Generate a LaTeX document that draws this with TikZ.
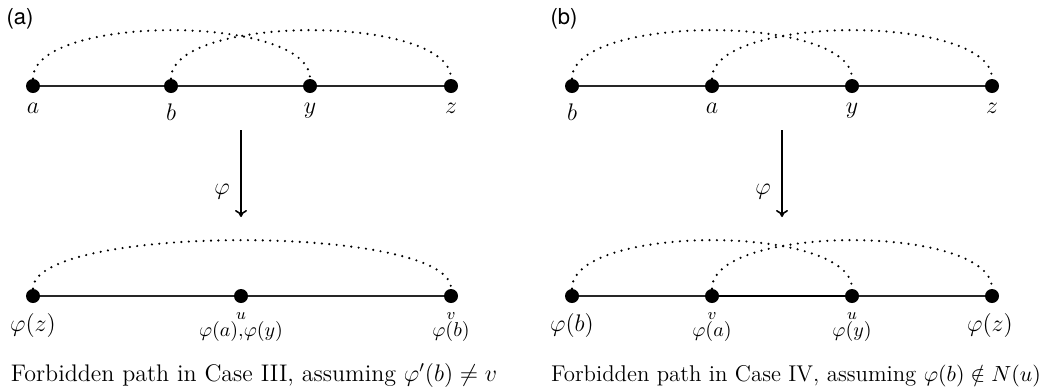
\documentclass[tikz,border=0pt]{standalone}
\usepackage{fontspec}
\newfontfamily\heros{TeX Gyre Heros}
\usetikzlibrary{arrows.meta}
\begin{document}
\begin{tikzpicture}[x=0.5pt,y=-0.5pt,
  vtx/.style={circle,fill=black,inner sep=0pt,minimum size=7pt},
  edge/.style={line width=0.6pt, black!85},
  thickedge/.style={line width=1.2pt, black},
  dotarc/.style={line width=1.2pt, dash pattern=on 0pt off 3.7pt, line cap=round},
  toplab/.style={anchor=north, inner sep=0pt, font=\fontsize{12}{14}\selectfont},
  biglab/.style={anchor=base, inner sep=0pt, font=\fontsize{12}{14}\selectfont},
  midlab/.style={anchor=base, inner sep=0pt, font=\fontsize{10}{12}\selectfont},
  tinylab/.style={anchor=base, inner sep=0pt, font=\fontsize{8}{9}\selectfont},
  caption/.style={anchor=base, inner sep=0pt},
  panel/.style={anchor=center, inner sep=0pt, font=\heros\fontsize{11}{13}\selectfont},
  maparrow/.style={line width=0.8pt, -{To[length=3.5pt,width=6pt]}}
]
\useasboundingbox (0,0) rectangle (1049,387);

% ---------------- panel (a) ----------------
\node[panel] (pa) at (20,19) {(a)};
\node[vtx] (a1) at (33,86) {};
\node[vtx] (b1) at (171,86) {};
\node[vtx] (y1) at (310,86) {};
\node[vtx] (z1) at (451,86) {};
\draw[edge] (a1) -- (b1) -- (y1) -- (z1);
\draw[dotarc] (a1) .. controls +(0,-72) and +(0,-72) .. (y1);
\draw[dotarc] (b1) .. controls +(0,-72) and +(0,-72) .. (z1);
\node[toplab] (la1) at (33,103) {$a$};
\node[toplab] (lb1) at (171,103) {$b$};
\node[toplab] (ly1) at (310,103) {$y$};
\node[toplab] (lz1) at (451,103) {$z$};

\coordinate (ta) at (241,130);
\coordinate (ha) at (241,217);
\draw[maparrow] (ta) -- (ha);
\node[biglab] (phia) at (222,194) {$\varphi$};

\node[vtx] (pz1) at (33,296) {};
\node[vtx] (pu1) at (241,296) {};
\node[vtx] (pv1) at (451,296) {};
\draw[edge] (pz1) -- (pu1) -- (pv1);
\draw[dotarc] (pz1) .. controls +(0,-72) and +(0,-72) .. (pv1);
\node[biglab] (lpz1) at (33,331) {$\varphi(z)$};
\node[tinylab] (lu1) at (241,319) {$u$};
\node[midlab] (lpu1) at (241,336) {$\varphi(a),\!\varphi(y)$};
\node[tinylab] (lv1) at (451,319) {$v$};
\node[midlab] (lpv1) at (451,336) {$\varphi(b)$};

\node[caption, font=\fontsize{12}{14}\selectfont] (capa) at (254,381) {Forbidden path in Case III, assuming $\varphi'(b)\neq v$};

% ---------------- panel (b) ----------------
\node[panel] (pb) at (564,19) {(b)};
\node[vtx] (b2) at (572,86) {};
\node[vtx] (a2) at (712,86) {};
\node[vtx] (y2) at (852,86) {};
\node[vtx] (z2) at (992,86) {};
\draw[edge] (b2) -- (a2) -- (y2) -- (z2);
\draw[dotarc] (b2) .. controls +(0,-72) and +(0,-72) .. (y2);
\draw[dotarc] (a2) .. controls +(0,-72) and +(0,-72) .. (z2);
\node[toplab] (lb2) at (572,103) {$b$};
\node[toplab] (la2) at (712,103) {$a$};
\node[toplab] (ly2) at (852,103) {$y$};
\node[toplab] (lz2) at (992,103) {$z$};

\coordinate (tb) at (782,130);
\coordinate (hb) at (782,217);
\draw[maparrow] (tb) -- (hb);
\node[biglab] (phib) at (763,194) {$\varphi$};

\node[vtx] (pb2) at (572,296) {};
\node[vtx] (pa2) at (712,296) {};
\node[vtx] (py2) at (852,296) {};
\node[vtx] (pz2) at (992,296) {};
\draw[edge] (pb2) -- (pa2);
\draw[thickedge] (pa2) -- (py2);
\draw[edge] (py2) -- (pz2);
\draw[dotarc] (pb2) .. controls +(0,-72) and +(0,-72) .. (py2);
\draw[dotarc] (pa2) .. controls +(0,-72) and +(0,-72) .. (pz2);
\node[biglab] (lpb2) at (572,331) {$\varphi(b)$};
\node[tinylab] (lv2) at (712,319) {$v$};
\node[midlab] (lpa2) at (712,336) {$\varphi(a)$};
\node[tinylab] (lu2) at (852,319) {$u$};
\node[midlab] (lpy2) at (852,336) {$\varphi(y)$};
\node[biglab] (lpz2) at (990,331) {$\varphi(z)$};

\node[caption, font=\fontsize{11.4}{13.5}\selectfont] (capb) at (796,381) {Forbidden path in Case IV, assuming $\varphi(b)\notin N(u)$};
\end{tikzpicture}
\end{document}
